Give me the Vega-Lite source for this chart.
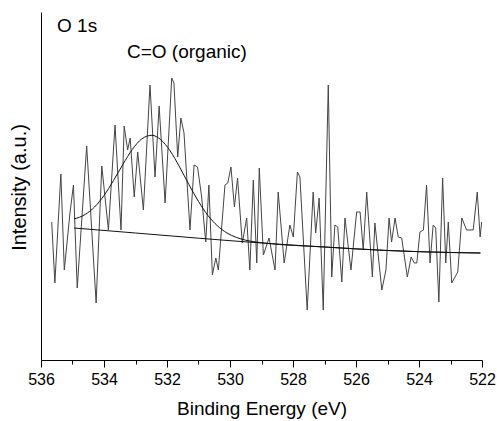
{
  "$schema": "https://vega.github.io/schema/vega-lite/v6.json",
  "autosize": {"type": "none"},
  "width": 441,
  "height": 348,
  "padding": {"left": 41, "top": 12, "right": 15, "bottom": 61},
  "background": "white",
  "config": {
    "view": {"stroke": null},
    "font": "Liberation Sans",
    "axis": {"grid": false, "domainColor": "black", "tickColor": "black", "labelColor": "black", "titleColor": "black", "titleFontWeight": "normal", "labelFont": "Liberation Sans", "titleFont": "Liberation Sans"}
  },
  "datasets": {
    "spectrum": [
      {"E": 535.66, "I": 138}, {"E": 535.56, "I": 77}, {"E": 535.37, "I": 186}, {"E": 535.26, "I": 90},
      {"E": 535.08, "I": 147}, {"E": 534.97, "I": 175}, {"E": 534.85, "I": 72}, {"E": 534.55, "I": 214},
      {"E": 534.25, "I": 57}, {"E": 534.07, "I": 194}, {"E": 533.86, "I": 130}, {"E": 533.65, "I": 235},
      {"E": 533.46, "I": 130}, {"E": 533.36, "I": 234}, {"E": 533.25, "I": 210}, {"E": 533.17, "I": 222},
      {"E": 533.04, "I": 163}, {"E": 532.93, "I": 208}, {"E": 532.75, "I": 150}, {"E": 532.54, "I": 275},
      {"E": 532.38, "I": 183}, {"E": 532.25, "I": 254}, {"E": 532.06, "I": 157}, {"E": 531.85, "I": 282},
      {"E": 531.78, "I": 277}, {"E": 531.66, "I": 203}, {"E": 531.56, "I": 242}, {"E": 531.46, "I": 227},
      {"E": 531.27, "I": 130}, {"E": 531.14, "I": 195}, {"E": 531.03, "I": 193}, {"E": 530.9, "I": 163},
      {"E": 530.77, "I": 118}, {"E": 530.67, "I": 175}, {"E": 530.56, "I": 85}, {"E": 530.45, "I": 102},
      {"E": 530.37, "I": 90}, {"E": 530.16, "I": 175}, {"E": 530.07, "I": 177}, {"E": 529.97, "I": 193},
      {"E": 529.86, "I": 153}, {"E": 529.76, "I": 182}, {"E": 529.61, "I": 117}, {"E": 529.47, "I": 142},
      {"E": 529.37, "I": 90}, {"E": 529.26, "I": 180}, {"E": 529.15, "I": 97}, {"E": 529.07, "I": 192},
      {"E": 528.94, "I": 105}, {"E": 528.76, "I": 122}, {"E": 528.57, "I": 90}, {"E": 528.47, "I": 168},
      {"E": 528.28, "I": 97}, {"E": 528.1, "I": 135}, {"E": 527.99, "I": 123}, {"E": 527.86, "I": 188},
      {"E": 527.78, "I": 183}, {"E": 527.55, "I": 50}, {"E": 527.36, "I": 168}, {"E": 527.28, "I": 127},
      {"E": 527.17, "I": 162}, {"E": 527.04, "I": 50}, {"E": 526.88, "I": 275}, {"E": 526.77, "I": 83},
      {"E": 526.67, "I": 135}, {"E": 526.58, "I": 133}, {"E": 526.45, "I": 78}, {"E": 526.35, "I": 142},
      {"E": 526.16, "I": 90}, {"E": 525.98, "I": 148}, {"E": 525.87, "I": 148}, {"E": 525.77, "I": 110},
      {"E": 525.66, "I": 168}, {"E": 525.48, "I": 83}, {"E": 525.4, "I": 137}, {"E": 525.18, "I": 70},
      {"E": 525.05, "I": 90}, {"E": 524.95, "I": 142}, {"E": 524.87, "I": 118}, {"E": 524.76, "I": 142},
      {"E": 524.66, "I": 123}, {"E": 524.55, "I": 122}, {"E": 524.37, "I": 83}, {"E": 524.25, "I": 103},
      {"E": 524.15, "I": 97}, {"E": 524.07, "I": 97}, {"E": 523.97, "I": 128}, {"E": 523.86, "I": 130},
      {"E": 523.76, "I": 175}, {"E": 523.65, "I": 97}, {"E": 523.55, "I": 135}, {"E": 523.47, "I": 132},
      {"E": 523.37, "I": 58}, {"E": 523.25, "I": 182}, {"E": 523.15, "I": 97}, {"E": 523.07, "I": 138},
      {"E": 522.96, "I": 77}, {"E": 522.77, "I": 88}, {"E": 522.64, "I": 142}, {"E": 522.49, "I": 130},
      {"E": 522.28, "I": 130}, {"E": 522.15, "I": 168}, {"E": 522.06, "I": 123}, {"E": 522.01, "I": 138}
    ],
    "fit": [
      {"E": 534.95, "I": 141}, {"E": 534.6, "I": 145.5}, {"E": 534.3, "I": 153}, {"E": 534.0, "I": 164.5},
      {"E": 533.7, "I": 179.4}, {"E": 533.4, "I": 195.6}, {"E": 533.1, "I": 210.6}, {"E": 532.8, "I": 221.1},
      {"E": 532.48, "I": 224.7}, {"E": 532.2, "I": 220.4}, {"E": 531.9, "I": 209.1}, {"E": 531.6, "I": 193.0},
      {"E": 531.3, "I": 175.2}, {"E": 531.0, "I": 158.5}, {"E": 530.7, "I": 144.5}, {"E": 530.4, "I": 134.2},
      {"E": 530.1, "I": 127.1}, {"E": 529.8, "I": 122.6}, {"E": 529.5, "I": 119.8}, {"E": 529.2, "I": 118.1},
      {"E": 528.9, "I": 116.9}, {"E": 527.0, "I": 113}, {"E": 525.0, "I": 109.5}, {"E": 523.0, "I": 107.5},
      {"E": 522.05, "I": 107}
    ],
    "baseline": [
      {"E": 534.95, "I": 132}, {"E": 533.0, "I": 127}, {"E": 531.0, "I": 121.8}, {"E": 529.0, "I": 117},
      {"E": 527.0, "I": 113}, {"E": 525.0, "I": 109.5}, {"E": 523.0, "I": 107.5}, {"E": 522.05, "I": 107}
    ],
    "labels": [
      {"E": 535.49, "I": 328.5, "text": "O 1s"},
      {"E": 533.27, "I": 302, "text": "C=O (organic)"}
    ]
  },
  "resolve": {"axis": {"x": "independent"}},
  "layer": [
    {
      "data": {"name": "spectrum"},
      "mark": {"type": "line", "stroke": "#444444", "strokeWidth": 1, "clip": true},
      "encoding": {
        "x": {"field": "E", "type": "quantitative", "scale": {"domain": [522, 536], "reverse": true, "nice": false, "zero": false},
          "axis": {"orient": "bottom", "values": [536, 534, 532, 530, 528, 526, 524, 522], "tickSize": 7, "labelFontSize": 16, "labelPadding": 4, "labelFlush": false,
            "title": "Binding Energy (eV)", "titleFontSize": 19, "titleY": 54, "titleBaseline": "alphabetic", "domainWidth": 1}},
        "y": {"field": "I", "type": "quantitative", "scale": {"domain": [0, 348], "nice": false, "zero": false},
          "axis": {"ticks": false, "labels": false, "title": "Intensity (a.u.)", "titleFontSize": 20, "titleAngle": -90, "titleX": -16, "titleY": 175, "titleAlign": "center", "titleBaseline": "alphabetic", "domainWidth": 1}}
      }
    },
    {
      "data": {"name": "fit"},
      "mark": {"type": "line", "stroke": "#111111", "strokeWidth": 1, "interpolate": "monotone"},
      "encoding": {
        "x": {"field": "E", "type": "quantitative", "axis": {"orient": "bottom", "values": [535, 533, 531, 529, 527, 525, 523], "tickSize": 4, "labels": false, "domain": false, "title": null}},
        "y": {"field": "I", "type": "quantitative"}
      }
    },
    {
      "data": {"name": "baseline"},
      "mark": {"type": "line", "stroke": "#111111", "strokeWidth": 1, "interpolate": "monotone"},
      "encoding": {
        "x": {"field": "E", "type": "quantitative", "axis": null},
        "y": {"field": "I", "type": "quantitative"}
      }
    },
    {
      "data": {"name": "labels"},
      "mark": {"type": "text", "align": "left", "baseline": "alphabetic", "fontSize": 19, "color": "black", "font": "Liberation Sans"},
      "encoding": {
        "x": {"field": "E", "type": "quantitative", "axis": null},
        "y": {"field": "I", "type": "quantitative"},
        "text": {"field": "text"}
      }
    }
  ]
}
